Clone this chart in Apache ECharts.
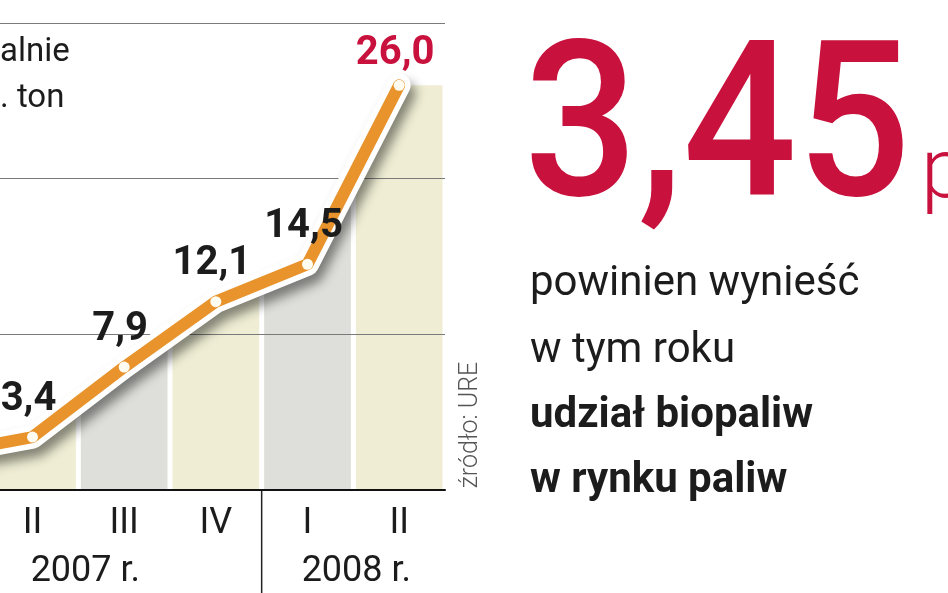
<!DOCTYPE html>
<html>
<head>
<meta charset="utf-8">
<script src="https://cdn.jsdelivr.net/npm/echarts@6/dist/echarts.min.js"></script>
<style>
html,body{margin:0;padding:0;background:#fff;overflow:hidden;width:948px;height:593px;position:relative;}
#c{position:absolute;left:-105px;top:0;width:1053px;height:593px;}
</style>
</head>
<body>
<div id="c"></div>
<script>
// ---- data ----
const quarters = ['I', 'II', 'III', 'IV', 'I', 'II'];
const years = ['2007 r.', '2008 r.'];
const yearSpans = [[0, 3], [4, 5]];
const production = [2.3, 3.4, 7.9, 12.1, 14.5, 26.0];
const yTicks = [0, 10, 20, 30];
const bigNumber = '3,45';
const sideLines = ['powinien wynieść', 'w tym roku', 'udział biopaliw', 'w rynku paliw'];
const titleFragments = ['alnie', '. ton'];
const sourceText = 'źródło: URE';

// ---- styles ----
const OFF = 105; // the chart canvas starts 105px left of the visible frame (cropped first quarter)
const FONT = 'Roboto, "Noto Sans", sans-serif';
const BEIGE = '#EFEED4';
const GREY = '#DEDEDA';
const ORANGE = '#E8932B';
const CRIMSON = '#C8113D';
const INK = '#1c1c1c';

const chart = echarts.init(document.getElementById('c'), null, {renderer: 'canvas'});
const fmt = v => v.toFixed(1).replace('.', ',');
const last = production.length - 1;

const option = {
  backgroundColor: '#fff',
  animation: false,
  grid: {left: 0, right: 503, top: 23, bottom: 103, containLabel: false},
  xAxis: {
    type: 'category', data: quarters, boundaryGap: true, z: 3,
    axisLine: {show: true, lineStyle: {color: '#111', width: 2}},
    axisTick: {show: false},
    axisLabel: {fontSize: 36, color: INK, fontFamily: FONT, margin: 16}
  },
  yAxis: {
    type: 'value', min: yTicks[0], max: yTicks[yTicks.length - 1], interval: 10, z: 3,
    axisLine: {show: false}, axisTick: {show: false}, axisLabel: {show: false},
    splitLine: {show: true, lineStyle: {color: '#7a7a7a', width: 1}}
  },
  series: [
    {
      type: 'custom', z: 1, silent: true,
      data: production.map((v, i) => [i, v]),
      renderItem: function (params, api) {
        const i = params.dataIndex;
        const w = api.size([1, 0])[0];
        const bw = w - 5;
        const p = api.coord([i, production[i]]);
        const base = api.coord([i, 0])[1];
        const prev = i > 0 ? api.coord([i - 1, production[i - 1]]) : null;
        const next = i < last ? api.coord([i + 1, production[i + 1]]) : null;
        const yAt = x => {
          if (x < p[0] && prev) return prev[1] + (p[1] - prev[1]) * (x - prev[0]) / (p[0] - prev[0]);
          if (x > p[0] && next) return p[1] + (next[1] - p[1]) * (x - p[0]) / (next[0] - p[0]);
          return p[1];
        };
        const xL = p[0] - bw / 2, xR = p[0] + bw / 2;
        return {
          type: 'polygon',
          shape: {points: [[xL, base - 1], [xL, yAt(xL)], [p[0], p[1]], [xR, yAt(xR)], [xR, base - 1]]},
          style: {fill: i % 2 === 0 ? GREY : BEIGE}
        };
      }
    },
    {
      type: 'line', z: 5, silent: true, data: production, symbol: 'none',
      lineStyle: {color: '#fff', width: 23, join: 'round', cap: 'round',
        shadowColor: 'rgba(0,0,0,0.45)', shadowBlur: 11, shadowOffsetX: 5, shadowOffsetY: 8}
    },
    {
      type: 'line', z: 6, silent: true,
      data: production.map((v, i) => i === last ? {value: v, label: {color: CRIMSON, distance: 6}} : v),
      symbol: 'circle', symbolSize: 11, showSymbol: true,
      itemStyle: {color: '#FFFDF2', borderWidth: 0},
      lineStyle: {color: ORANGE, width: 12, join: 'round', cap: 'round'},
      label: {show: true, position: 'top', distance: 12, offset: [-4, 0],
        fontSize: 40, fontWeight: 'bold', color: INK, fontFamily: FONT,
        formatter: p => fmt(p.value)}
    }
  ],
  graphic: []
};
chart.setOption(option);

// positions derived from the axis
const px = i => chart.convertToPixel({xAxisIndex: 0}, i);
const sepX = (px(3) + px(4)) / 2;
const g = [];
g.push({type: 'line', shape: {x1: sepX, y1: 490, x2: sepX, y2: 593}, style: {stroke: '#222', lineWidth: 1.5}});
years.forEach((t, k) => {
  const cx = (px(yearSpans[k][0]) + px(yearSpans[k][1])) / 2 + (k === 0 ? 7 : 3);
  g.push({type: 'text', x: cx, y: 572, style: {text: t, font: '36px ' + FONT, fill: INK, align: 'center', verticalAlign: 'middle'}});
});
g.push({type: 'text', x: OFF + 0, y: 53, style: {text: titleFragments[0], font: '33px ' + FONT, fill: INK, align: 'left', verticalAlign: 'middle'}});
g.push({type: 'text', x: OFF + 0, y: 99, style: {text: titleFragments[1], font: '33px ' + FONT, fill: INK, align: 'left', verticalAlign: 'middle'}});
g.push({type: 'text', x: OFF + 471, y: 425, rotation: Math.PI / 2,
  style: {text: sourceText, font: '300 25px ' + FONT, fill: '#555', align: 'center', verticalAlign: 'middle'}});
g.push({type: 'text', x: OFF + 524, y: 140, scaleX: 0.92,
  style: {text: bigNumber, font: '500 218px ' + FONT, fill: CRIMSON, align: 'left', verticalAlign: 'middle'}});
g.push({type: 'text', x: OFF + 921, y: 176,
  style: {text: 'p', font: '300 84px ' + FONT, fill: CRIMSON, align: 'left', verticalAlign: 'middle'}});
const baselines = [296, 363, 428, 493];
sideLines.forEach((t, k) => {
  g.push({type: 'text', x: OFF + 530, y: baselines[k] - 12,
    style: {text: t, font: (k >= 2 ? 'bold ' : '') + '42px ' + FONT, fill: INK, align: 'left', verticalAlign: 'middle'}});
});
chart.setOption({graphic: g});
</script>
</body>
</html>
